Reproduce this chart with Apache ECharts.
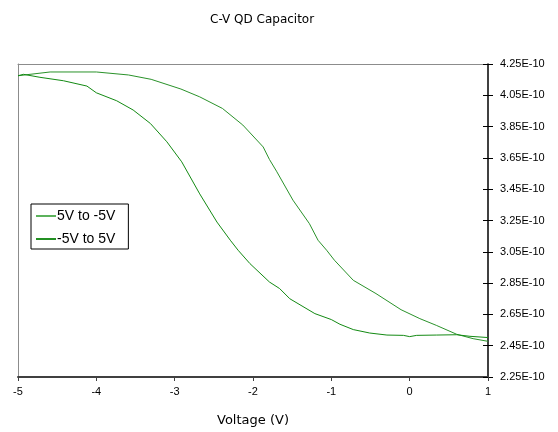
<!DOCTYPE html>
<html>
<head>
<meta charset="utf-8">
<script src="https://cdn.jsdelivr.net/npm/echarts@6/dist/echarts.min.js"></script>
<style>
  html, body { margin: 0; padding: 0; background: #fff; }
  #chart { width: 558px; height: 432px; }
</style>
</head>
<body>
<div id="chart"></div>
<script>
// Capacitance values are given in units of 1e-10 F
const UNIT = 1e-10;

// Sweep "5V to -5V"
const sweepDownV = [-5, -4.59, -4.0, -3.59, -3.30, -2.92, -2.68, -2.39, -2.13, -1.87, -1.79, -1.70,
  -1.49, -1.28, -1.17, -1.06, -0.96, -0.72, -0.43, -0.11, 0.13, 0.34, 0.60, 0.81, 1.0];
const sweepDownC = [4.175, 4.199, 4.199, 4.18, 4.152, 4.09, 4.04, 3.966, 3.86, 3.72, 3.64, 3.565,
  3.38, 3.23, 3.124, 3.06, 2.996, 2.868, 2.783, 2.68, 2.623, 2.58, 2.523, 2.495, 2.478];

// Sweep "-5V to 5V"
const sweepUpV = [-5, -4.93, -4.72, -4.42, -4.12, -4.0, -3.74, -3.53, -3.31, -3.10, -2.91, -2.68, -2.46,
  -2.29, -2.19, -2.04, -1.79, -1.66, -1.53, -1.21, -1.0, -0.89, -0.72, -0.51, -0.29, -0.08, 0.0, 0.09,
  0.34, 0.6, 0.77, 1.0];
const sweepUpC = [4.175, 4.184, 4.165, 4.143, 4.109, 4.066, 4.015, 3.956, 3.87, 3.753, 3.625, 3.42, 3.24,
  3.124, 3.06, 2.975, 2.857, 2.815, 2.75, 2.655, 2.617, 2.587, 2.553, 2.531, 2.518, 2.516, 2.508, 2.516,
  2.518, 2.52, 2.51, 2.502];

// Capacitance axis tick positions (1e-10 F)
const capTicks = [2.25, 2.45, 2.65, 2.85, 3.05, 3.25, 3.45, 3.65, 3.85, 4.05, 4.25];

const seriesNames = ['5V to -5V', '-5V to 5V'];

const pairs = (xs, ys) => xs.map((x, i) => [x, ys[i] * UNIT]);
const tickValues = capTicks.map(t => t * UNIT);
const yMin = capTicks[0] * UNIT;
const yMax = capTicks[capTicks.length - 1] * UNIT;

const chart = echarts.init(document.getElementById('chart'), null, { renderer: 'canvas' });

const labelFont = { fontFamily: 'Liberation Sans', fontSize: 11, color: '#000' };

chart.setOption({
  animation: false,
  backgroundColor: '#fff',
  title: {
    text: 'C-V QD Capacitor',
    left: 205,
    top: 9,
    textStyle: { fontFamily: 'DejaVu Sans', fontSize: 12, fontWeight: 'normal', color: '#000' }
  },
  grid: { left: 18, right: 70, top: 64, bottom: 55, containLabel: false },
  legend: {
    left: 31,
    top: 204,
    orient: 'vertical',
    itemGap: 9,
    itemWidth: 20,
    itemHeight: 2,
    icon: 'rect',
    padding: [5, 13, 3, 5],
    borderColor: '#000',
    borderWidth: 1,
    textStyle: { fontFamily: 'Liberation Sans', fontSize: 14, color: '#000', padding: [0, 0, 0, -4] },
    data: seriesNames
  },
  xAxis: [
    {
      type: 'value',
      min: -5,
      max: 1,
      interval: 1,
      position: 'bottom',
      name: 'Voltage (V)',
      nameLocation: 'middle',
      nameGap: 37,
      nameTextStyle: { fontFamily: 'DejaVu Sans', fontSize: 13, color: '#000' },
      axisLine: { onZero: false, lineStyle: { color: '#404040', width: 2 } },
      axisTick: { show: true, inside: false, length: 4, lineStyle: { color: '#404040', width: 1 } },
      axisLabel: Object.assign({ margin: 9 }, labelFont),
      splitLine: { show: false }
    },
    {
      type: 'value',
      min: -5,
      max: 1,
      position: 'top',
      axisLine: { onZero: false, lineStyle: { color: '#8c8c8c', width: 1 } },
      axisTick: { show: false },
      axisLabel: { show: false },
      splitLine: { show: false }
    }
  ],
  yAxis: [
    {
      type: 'value',
      min: yMin,
      max: yMax,
      position: 'right',
      axisLine: { onZero: false, lineStyle: { color: '#000', width: 1.5 } },
      axisTick: { show: true, inside: false, length: 5, customValues: tickValues, lineStyle: { color: '#000' } },
      axisLabel: Object.assign({
        margin: 12,
        customValues: tickValues,
        formatter: v => (v / UNIT).toFixed(2) + 'E-10'
      }, labelFont),
      splitLine: { show: false }
    },
    {
      type: 'value',
      min: yMin,
      max: yMax,
      position: 'right',
      offset: 0,
      axisLine: { show: false, onZero: false },
      axisTick: { show: true, inside: true, length: 5, customValues: tickValues, lineStyle: { color: '#000' } },
      axisLabel: { show: false },
      splitLine: { show: false }
    },
    {
      type: 'value',
      min: yMin,
      max: yMax,
      position: 'left',
      axisLine: { onZero: false, lineStyle: { color: '#8c8c8c', width: 1 } },
      axisTick: { show: false },
      axisLabel: { show: false },
      splitLine: { show: false }
    }
  ],
  series: [
    {
      name: seriesNames[0],
      type: 'line',
      xAxisIndex: 0,
      yAxisIndex: 0,
      showSymbol: false,
      symbol: 'none',
      lineStyle: { color: '#2a922a', width: 1 },
      itemStyle: { color: '#5cb25c' },
      data: pairs(sweepDownV, sweepDownC)
    },
    {
      name: seriesNames[1],
      type: 'line',
      xAxisIndex: 0,
      yAxisIndex: 0,
      showSymbol: false,
      symbol: 'none',
      lineStyle: { color: '#138a13', width: 1 },
      itemStyle: { color: '#239023' },
      data: pairs(sweepUpV, sweepUpC)
    }
  ]
});
</script>
</body>
</html>
